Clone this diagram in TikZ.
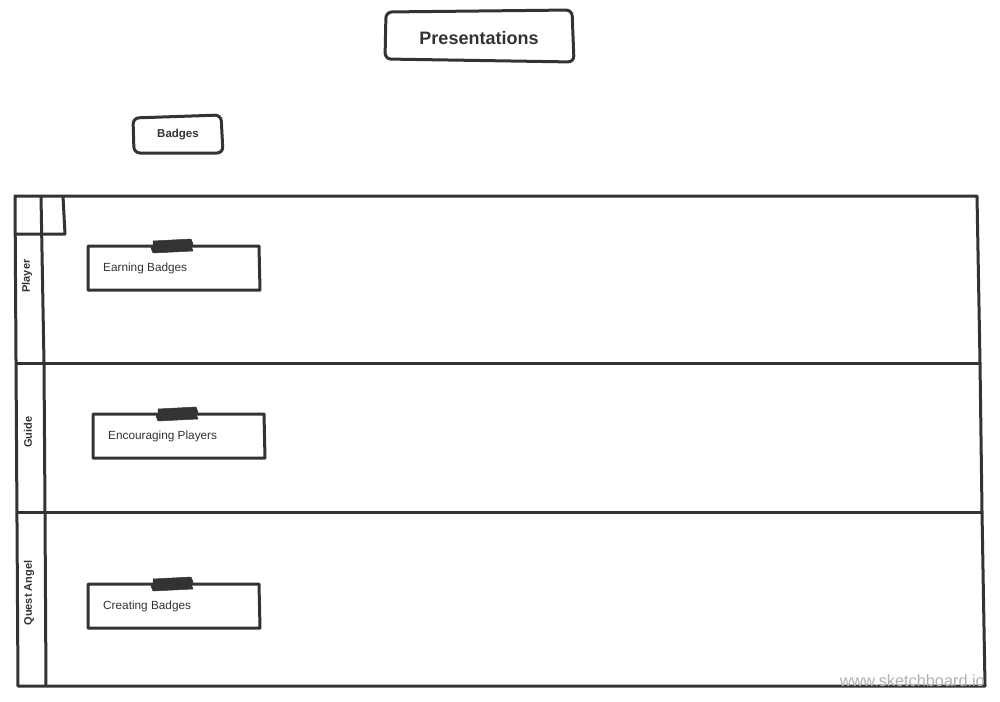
\documentclass[tikz,border=0pt]{standalone}
\usepackage{fontspec}
\setmainfont{Liberation Sans}
\definecolor{ink}{HTML}{333333}
\definecolor{wm}{HTML}{B0B0B0}
\begin{document}
\begin{tikzpicture}[x=1pt,y=-1pt,
  line join=round,
  sk/.style={draw=ink,line width=3pt},
  title/.style={font=\bfseries\fontsize{18}{20}\selectfont,text=ink},
  small/.style={font=\bfseries\fontsize{11.5}{13}\selectfont,text=ink},
  lanelbl/.style={font=\bfseries\fontsize{11}{13}\selectfont,text=ink,rotate=90},
  notetxt/.style={font=\fontsize{11.8}{13}\selectfont,text=ink,anchor=west,inner sep=0pt},
  tape/.style={fill=ink,draw=ink,line width=0.5pt}]
\useasboundingbox (0,0) rectangle (1000,701);
% Presentations box
\draw[sk,rounded corners=6pt] (386,12) -- (572,10) -- (574,62) -- (385,59) -- cycle;
\node[title] (pres) at (479,38) {Presentations};
% Badges box
\draw[sk,rounded corners=6pt] (133,118) -- (221,115) -- (223,153) -- (134,153) -- cycle;
\node[small] (badges) at (178,135) {Badges};
% Swimlane
\draw[sk] (15,196) -- (977,196) -- (980,363) -- (982,512) -- (985,686) -- (18,686) -- cycle;
\draw[sk] (16,363) -- (980,363);
\draw[sk] (17,512) -- (982,512);
\draw[sk] (41,196) -- (44,363) -- (45,512) -- (46,686);
\draw[sk] (15,234) -- (65,234) -- (63,196);
\node[lanelbl] (player) at (27,276) {Player};
\node[lanelbl] (guide) at (28,432) {Guide};
\node[lanelbl] (quest) at (29,593) {Quest Angel};
% Notes
\draw[sk] (88,246) -- (259,246) -- (260,290) -- (88,290) -- cycle;
\draw[tape] (153,241) -- (191,239) -- (193,244) -- (191,246) -- (193,251) -- (153,253) -- (151,248) -- (153,246) -- cycle;
\node[notetxt] (n1) at (103,268.5) {Earning Badges};
\draw[sk] (93,414) -- (264,414) -- (265,458) -- (93,458) -- cycle;
\draw[tape] (158,409) -- (196,407) -- (198,412) -- (196,414) -- (198,419) -- (158,421) -- (156,416) -- (158,414) -- cycle;
\node[notetxt] (n2) at (108,436.5) {Encouraging Players};
\draw[sk] (88,584) -- (259,584) -- (260,628) -- (88,628) -- cycle;
\draw[tape] (153,579) -- (191,577) -- (193,582) -- (191,584) -- (193,589) -- (153,591) -- (151,586) -- (153,584) -- cycle;
\node[notetxt] (n3) at (103,606.5) {Creating Badges};
% watermark
\node[anchor=east,font=\fontsize{16.3}{18}\selectfont,text=wm,inner sep=0pt] (wmk) at (985,681) {www.sketchboard.io};
\end{tikzpicture}
\end{document}
